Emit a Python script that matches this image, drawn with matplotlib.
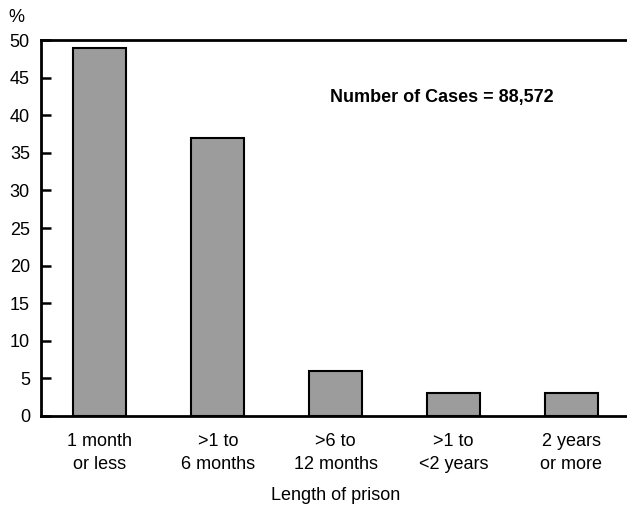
import matplotlib
matplotlib.use("Agg")
import matplotlib.pyplot as plt

# data
categories = ["1 month\nor less", ">1 to\n6 months", ">6 to\n12 months", ">1 to\n<2 years", "2 years\nor more"]
percent = [49, 37, 6, 3, 3]
yticks = [0, 5, 10, 15, 20, 25, 30, 35, 40, 45, 50]

plt.rcParams['font.family'] = ['Liberation Sans', 'DejaVu Sans']

fig = plt.figure(figsize=(6.27, 5.07), dpi=100)
ax = fig.add_axes([0.0654, 0.1795, 0.94, 0.7415])

x = range(len(categories))
ax.bar(x, percent, width=0.45, color='#9c9c9c', edgecolor='black', linewidth=1.5)

ax.set_xlim(-0.5, 4.5)
ax.set_ylim(0, 50)
ax.set_yticks(yticks)
ax.set_xticks(list(x))
ax.set_xticklabels(categories, fontsize=13, linespacing=1.5)

ax.tick_params(axis='y', direction='in', length=7, width=1.8, labelsize=13, pad=8)
ax.tick_params(axis='x', length=0, pad=12)

for s in ['left', 'bottom', 'top']:
    ax.spines[s].set_linewidth(2)
ax.spines['right'].set_visible(False)

ax.set_xlabel("Length of prison", fontsize=13, labelpad=10)
fig.text(0.013, 0.965, "%", fontsize=13, ha='left', va='center')
ax.text(0.49, 0.848, "Number of Cases = 88,572", transform=ax.transAxes,
        fontsize=13, fontweight='bold', ha='left', va='center')

plt.savefig("out.png", dpi=100)
